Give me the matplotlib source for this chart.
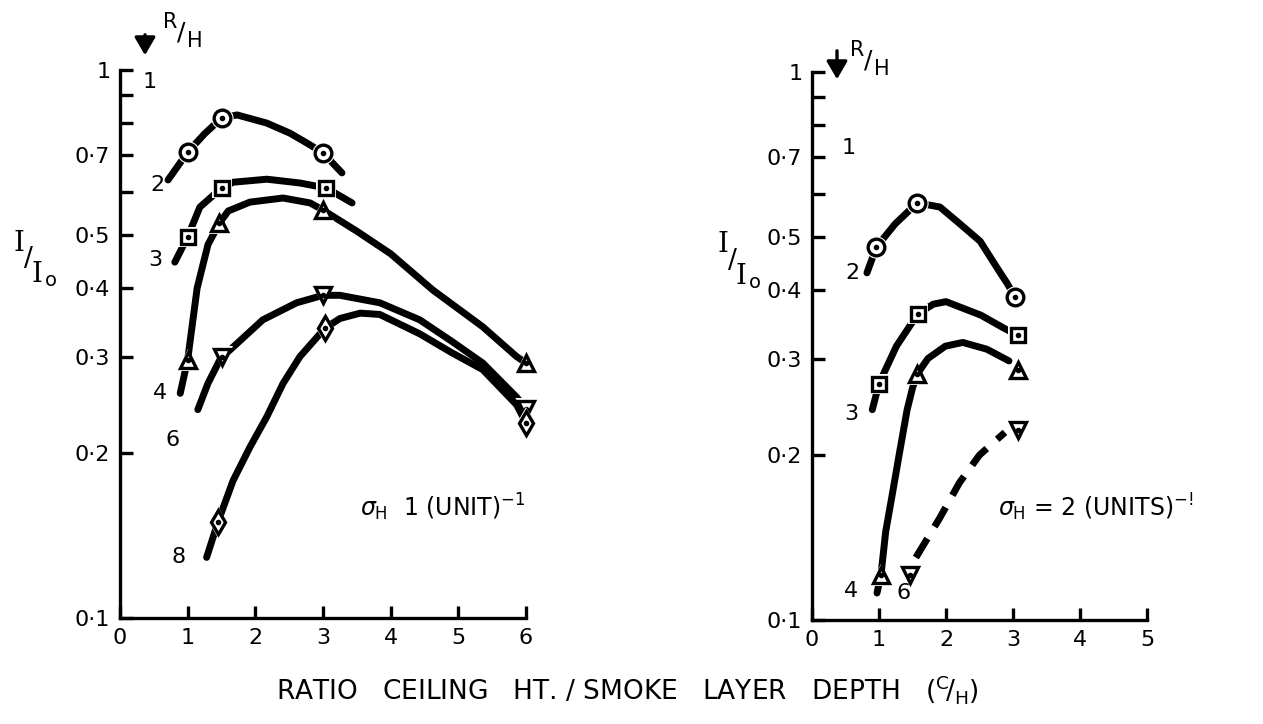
import matplotlib
matplotlib.use('Agg')
import matplotlib.pyplot as plt
from matplotlib.patches import FancyArrowPatch
from matplotlib.ticker import FixedLocator, FixedFormatter, NullFormatter

# ejes y etiquetas
izq_xticks = [0, 1, 2, 3, 4, 5, 6]
der_xticks = [0, 1, 2, 3, 4, 5]
yticks = [0.1, 0.2, 0.3, 0.4, 0.5, 0.7, 1.0]
ytick_labels = ['0·1', '0·2', '0·3', '0·4', '0·5', '0·7', '1']
yticks_menores = [0.6, 0.8, 0.9]

# panel izquierdo, sigma_H = 1  (marcas medidas y curva a mano)
izq_m2_x = [1.0, 1.5, 3.0]
izq_m2_y = [0.708, 0.817, 0.706]
izq_c2_x = [0.71, 1.0, 1.25, 1.5, 1.73, 2.17, 2.51, 2.76, 3.0, 3.28]
izq_c2_y = [0.63, 0.708, 0.765, 0.817, 0.828, 0.80, 0.767, 0.736, 0.706, 0.649]

izq_m3_x = [1.0, 1.5, 3.05]
izq_m3_y = [0.496, 0.609, 0.609]
izq_c3_x = [0.81, 1.0, 1.18, 1.5, 1.67, 2.17, 2.66, 3.05, 3.43]
izq_c3_y = [0.446, 0.496, 0.562, 0.609, 0.624, 0.632, 0.622, 0.609, 0.572]

izq_m4_x = [1.0, 1.47, 3.0, 6.0]
izq_m4_y = [0.296, 0.526, 0.555, 0.292]
izq_c4_x = [0.89, 1.0, 1.14, 1.30, 1.47, 1.6, 1.92, 2.41, 2.81, 3.0, 3.5, 4.0, 4.62, 5.36, 5.86, 6.0]
izq_c4_y = [0.257, 0.296, 0.40, 0.48, 0.526, 0.553, 0.574, 0.584, 0.572, 0.555, 0.508, 0.462, 0.397, 0.34, 0.30, 0.292]

izq_m6_x = [1.5, 3.0, 6.0]
izq_m6_y = [0.30, 0.388, 0.241]
izq_c6_x = [1.15, 1.3, 1.5, 1.62, 2.11, 2.61, 3.0, 3.25, 3.84, 4.43, 4.9, 5.36, 5.86, 6.0]
izq_c6_y = [0.24, 0.268, 0.30, 0.308, 0.35, 0.376, 0.388, 0.388, 0.376, 0.35, 0.32, 0.292, 0.253, 0.241]

izq_m8_x = [1.45, 3.03, 6.0]
izq_m8_y = [0.15, 0.338, 0.227]
izq_c8_x = [1.28, 1.45, 1.67, 1.92, 2.17, 2.41, 2.66, 3.03, 3.25, 3.55, 3.84, 4.43, 4.9, 5.36, 5.86, 6.0]
izq_c8_y = [0.129, 0.15, 0.178, 0.205, 0.233, 0.268, 0.300, 0.338, 0.352, 0.36, 0.358, 0.33, 0.305, 0.284, 0.245, 0.227]

# panel derecho, sigma_H = 2
der_m2_x = [0.96, 1.57, 3.03]
der_m2_y = [0.479, 0.577, 0.389]
der_c2_x = [0.82, 0.96, 1.24, 1.57, 1.91, 2.21, 2.51, 2.81, 2.91, 3.03]
der_c2_y = [0.43, 0.479, 0.528, 0.577, 0.567, 0.528, 0.491, 0.43, 0.412, 0.389]

der_m3_x = [1.0, 1.58, 3.07]
der_m3_y = [0.27, 0.362, 0.331]
der_c3_x = [0.9, 1.0, 1.26, 1.58, 1.81, 2.0, 2.52, 2.88, 3.07]
der_c3_y = [0.242, 0.27, 0.316, 0.362, 0.377, 0.381, 0.36, 0.34, 0.331]

der_m4_x = [1.03, 1.57, 3.07]
der_m4_y = [0.121, 0.281, 0.286]
der_c4_x = [0.97, 1.03, 1.1, 1.2, 1.3, 1.42, 1.5, 1.57, 1.73, 1.99, 2.25, 2.61, 2.94]
der_c4_y = [0.112, 0.121, 0.145, 0.17, 0.2, 0.242, 0.265, 0.281, 0.30, 0.316, 0.321, 0.312, 0.297]

der_m6_x = [1.47, 3.07]
der_m6_y = [0.121, 0.222]
der_c6_x = [1.55, 1.9, 2.2, 2.5, 2.88]
der_c6_y = [0.13, 0.153, 0.178, 0.2, 0.22]

# etiquetas R/H junto a las curvas
izq_rh = ['1', '2', '3', '4', '6', '8']
izq_rh_x = [0.44, 0.55, 0.52, 0.59, 0.78, 0.86]
izq_rh_y = [0.95, 0.617, 0.45, 0.257, 0.211, 0.129]
der_rh = ['1', '2', '3', '4', '6']
der_rh_x = [0.54, 0.61, 0.58, 0.58, 1.37]
der_rh_y = [0.728, 0.43, 0.238, 0.113, 0.112]

W, H = 1263, 724


def fx(px):
    return px / W


def fy(py):
    return 1 - py / H


def preparar_ejes(ax, xmax, xticks):
    ax.set_yscale('log')
    ax.set_ylim(0.1, 1.0)
    ax.set_xlim(0, xmax)
    ax.spines[['top', 'right']].set_visible(False)
    ax.spines[['left', 'bottom']].set_linewidth(2.4)
    ax.yaxis.set_major_locator(FixedLocator(yticks))
    ax.yaxis.set_major_formatter(FixedFormatter(ytick_labels))
    ax.yaxis.set_minor_locator(FixedLocator(yticks_menores))
    ax.yaxis.set_minor_formatter(NullFormatter())
    ax.set_xticks(xticks)
    ax.set_xticklabels([str(t) for t in xticks])
    ax.tick_params(which='both', direction='in', length=9, width=2.4,
                   labelsize=16, pad=7, color='black')
    ax.patch.set_alpha(0)


def dibujar_serie(ax, mx, my, cx, cy, marcador, ms, punteado=False):
    if punteado:
        ax.plot(cx, cy, color='black', lw=5, ls=(0, (3.2, 2.0)),
                dash_capstyle='butt', clip_on=False)
    else:
        ax.plot(cx, cy, color='black', lw=5, solid_capstyle='round',
                solid_joinstyle='round', clip_on=False)
    # halo blanco para cortar la linea junto a la marca
    ax.plot(mx, my, ls='none', marker=marcador, ms=ms + 4, mfc='white',
            mec='white', mew=0, clip_on=False)
    ax.plot(mx, my, ls='none', marker=marcador, ms=ms, mfc='white',
            mec='black', mew=2.4, clip_on=False)
    ax.plot(mx, my, ls='none', marker='o', ms=3, color='black', clip_on=False)


if __name__ == '__main__':

    plt.rcParams['font.family'] = ['DejaVu Sans']
    plt.rcParams['mathtext.fontset'] = 'dejavusans'

    fig = plt.figure(figsize=(W / 100, H / 100), dpi=100)
    fig.patch.set_facecolor('white')

    ax1 = fig.add_axes([fx(120), fy(618), fx(526) - fx(120), fy(70) - fy(618)])
    ax2 = fig.add_axes([fx(812), fy(620), fx(1147) - fx(812), fy(72) - fy(620)])

    preparar_ejes(ax1, 6, izq_xticks)
    preparar_ejes(ax2, 5, der_xticks)

    # curvas panel izquierdo
    dibujar_serie(ax1, izq_m2_x, izq_m2_y, izq_c2_x, izq_c2_y, 'o', 12)
    dibujar_serie(ax1, izq_m3_x, izq_m3_y, izq_c3_x, izq_c3_y, 's', 10)
    dibujar_serie(ax1, izq_m4_x, izq_m4_y, izq_c4_x, izq_c4_y, '^', 12)
    dibujar_serie(ax1, izq_m6_x, izq_m6_y, izq_c6_x, izq_c6_y, 'v', 12)
    dibujar_serie(ax1, izq_m8_x, izq_m8_y, izq_c8_x, izq_c8_y, 'd', 12)

    # curvas panel derecho
    dibujar_serie(ax2, der_m2_x, der_m2_y, der_c2_x, der_c2_y, 'o', 12)
    dibujar_serie(ax2, der_m3_x, der_m3_y, der_c3_x, der_c3_y, 's', 10)
    dibujar_serie(ax2, der_m4_x, der_m4_y, der_c4_x, der_c4_y, '^', 12)
    dibujar_serie(ax2, der_m6_x, der_m6_y, der_c6_x, der_c6_y, 'v', 12, punteado=True)

    for t, x, y in zip(izq_rh, izq_rh_x, izq_rh_y):
        ax1.text(x, y, t, fontsize=16, ha='center', va='center')
    for t, x, y in zip(der_rh, der_rh_x, der_rh_y):
        ax2.text(x, y, t, fontsize=16, ha='center', va='center')

    # flecha y R/H arriba de cada panel
    for x0, y0, y1 in [(145, 32, 58), (837, 48, 82)]:
        fig.patches.append(FancyArrowPatch(
            (fx(x0), fy(y0)), (fx(x0), fy(y1)), transform=fig.transFigure,
            arrowstyle='-|>,head_length=0.6,head_width=0.35', lw=2.4,
            color='black', mutation_scale=18))
    for x0, y0 in [(170, 22), (857, 50)]:
        fig.text(fx(x0), fy(y0), 'R', fontsize=15, ha='center', va='center')
        fig.text(fx(x0 + 11), fy(y0 + 11), '/', fontsize=18, ha='center', va='center')
        fig.text(fx(x0 + 25), fy(y0 + 19), 'H', fontsize=15, ha='center', va='center')

    # etiqueta del eje y: I / I0
    for x0, y0 in [(19, 243), (723, 245)]:
        fig.text(fx(x0), fy(y0), 'I', fontsize=20, family='DejaVu Serif',
                 ha='center', va='center')
        fig.text(fx(x0 + 9), fy(y0 + 16), '/', fontsize=19, ha='center', va='center')
        fig.text(fx(x0 + 18), fy(y0 + 32), 'I', fontsize=20, family='DejaVu Serif',
                 ha='center', va='center')
        fig.text(fx(x0 + 32), fy(y0 + 38), 'o', fontsize=14, ha='center', va='center')

    # anotaciones sigma_H
    fig.text(fx(360), fy(516), r'$\sigma_{\mathregular{H}}$  1 (UNIT)$^{-1}$',
             fontsize=17, ha='left', va='baseline')
    fig.text(fx(998), fy(516), r'$\sigma_{\mathregular{H}}$ = 2 (UNITS)$^{-!}$',
             fontsize=17, ha='left', va='baseline')

    # titulo inferior
    fig.text(0.497, fy(690),
             r'RATIO   CEILING   HT. / SMOKE   LAYER   DEPTH   ($^{\mathregular{C}}\!/_{\mathregular{H}}$)',
             fontsize=19, ha='center', va='center')

    fig.savefig('out.png', dpi=100, facecolor='white')
